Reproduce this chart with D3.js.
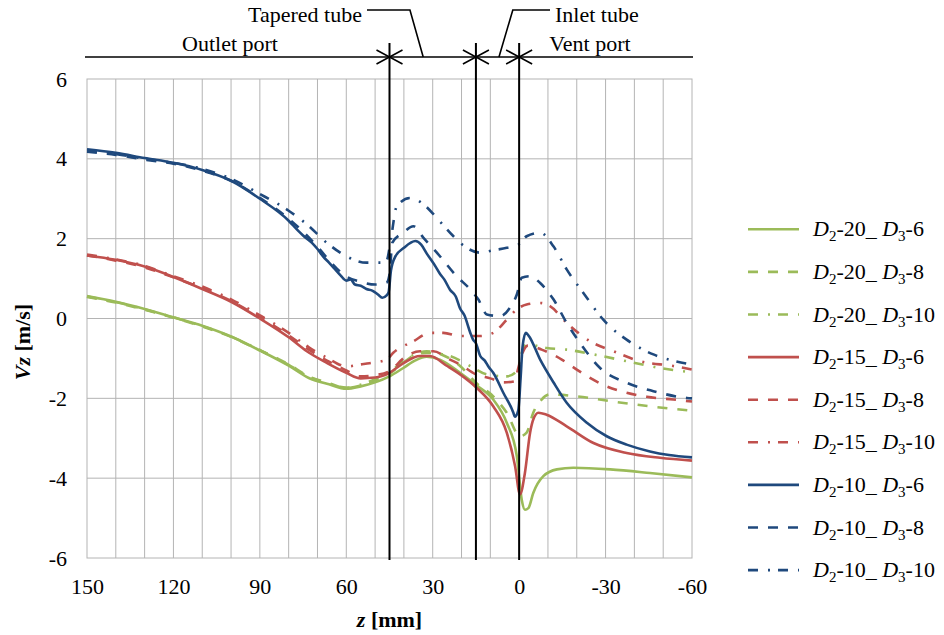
<!DOCTYPE html>
<html lang="en">
<head>
  <meta charset="UTF-8">
  <title>Vz along z</title>
  <style>
    body { margin: 0; background: #fff; }
    text { font-family: "Liberation Serif", "Times New Roman", serif; fill: #000; }
  </style>
</head>
<body>
  <svg></svg>
  <script src="https://cdn.jsdelivr.net/npm/d3@7"></script>
  <script>
    // [z (mm), Vz (m/s)]
    const green6 = [[150,0.56],[140,0.42],[130,0.24],[120,0.03],[110,-0.18],[100,-0.45],[90,-0.80],[80,-1.18],[73,-1.49],[66,-1.65],[60,-1.76],[55,-1.70],[50,-1.60],[45,-1.45],[40.2,-1.24],[36,-1.05],[32.1,-0.96],[27.5,-1.03],[20.5,-1.36],[14.7,-1.68],[9,-2.03],[4.3,-2.61],[0.8,-3.45],[-0.9,-4.54],[-2,-4.79],[-3.2,-4.75],[-4.9,-4.37],[-8.4,-3.95],[-13.1,-3.78],[-18.8,-3.74],[-31.6,-3.78],[-45.4,-3.87],[-60,-3.98]]
    const green8 = [[150,0.54],[140,0.40],[130,0.22],[120,0.02],[110,-0.20],[100,-0.46],[90,-0.80],[80,-1.15],[73,-1.45],[66,-1.62],[60,-1.74],[55,-1.68],[50,-1.55],[45,-1.38],[40,-1.10],[36,-0.90],[32.1,-0.82],[27,-0.90],[20.5,-1.19],[14.7,-1.63],[9,-1.95],[4.3,-2.36],[-0.3,-2.95],[-2.6,-2.86],[-4.9,-2.36],[-7.8,-2.03],[-10.7,-1.90],[-20,-1.95],[-31.6,-2.07],[-45.4,-2.20],[-60,-2.31]]
    const green10 = [[150,0.55],[140,0.41],[130,0.23],[120,0.03],[110,-0.19],[100,-0.45],[90,-0.79],[80,-1.16],[73,-1.46],[66,-1.63],[60,-1.73],[55,-1.66],[50,-1.52],[45,-1.35],[40,-1.05],[36,-0.90],[32,-0.86],[24,-0.94],[17,-1.19],[11.2,-1.40],[4.3,-1.45],[0.8,-1.32],[-0.9,-0.86],[-2.6,-0.65],[-9.6,-0.74],[-16.5,-0.78],[-25.8,-0.90],[-37.3,-1.07],[-48.9,-1.24],[-60,-1.35]]

    const red6 = [[150,1.58],[140,1.47],[130,1.30],[120,1.04],[110,0.74],[100,0.42],[90,0.0],[80,-0.47],[73.7,-0.82],[66.8,-1.11],[60,-1.36],[55,-1.50],[50,-1.48],[45,-1.36],[40,-1.11],[34.4,-0.94],[31,-0.94],[25,-1.19],[20.5,-1.40],[14.7,-1.74],[9,-2.20],[4.3,-2.86],[1.4,-3.70],[-0.3,-4.41],[-2,-3.87],[-3.8,-2.86],[-4.9,-2.53],[-6.7,-2.36],[-9.5,-2.41],[-16.5,-2.70],[-25.8,-3.12],[-37.3,-3.37],[-48.9,-3.49],[-60,-3.56]]
    const red8 = [[150,1.58],[140,1.45],[130,1.28],[120,1.03],[110,0.76],[100,0.44],[90,0.03],[80,-0.42],[73,-0.78],[66,-1.08],[60,-1.30],[55,-1.45],[50,-1.42],[45,-1.32],[40,-0.99],[34.4,-0.82],[29.8,-0.82],[24,-1.03],[20.5,-1.15],[15,-1.40],[10,-1.50],[5.5,-1.60],[1.4,-1.57],[0.5,-1.30],[-1,-0.90],[-3,-0.68],[-7.8,-0.78],[-14.8,-1.03],[-20,-1.28],[-24.6,-1.49],[-30.4,-1.70],[-37.3,-1.86],[-44.3,-1.96],[-53.5,-2.03],[-60,-2.08]]
    const red10 = [[150,1.60],[140,1.48],[130,1.32],[120,1.06],[110,0.80],[100,0.48],[90,0.08],[80,-0.36],[73,-0.72],[66.8,-0.98],[59.8,-1.20],[55,-1.15],[52,-1.12],[46,-1.03],[43.7,-0.86],[36.7,-0.57],[30.9,-0.36],[26.3,-0.36],[20.5,-0.44],[13.6,-0.44],[9,-0.36],[4.3,-0.03],[0.8,0.23],[-2.6,0.35],[-7.3,0.39],[-10.7,0.31],[-16.5,-0.11],[-24.6,-0.57],[-32.7,-0.82],[-42,-1.07],[-53.5,-1.19],[-60,-1.28]]

    const blue6 = [[150,4.24],[140,4.15],[130,4.02],[120,3.90],[110,3.72],[100,3.45],[90,3.00],[80,2.45],[77,2.22],[75,2.08],[72,1.90],[70,1.74],[68,1.55],[66,1.40],[64,1.24],[62,1.08],[60,0.95],[58.5,0.98],[57,0.85],[55,0.82],[53,0.74],[51,0.70],[49,0.60],[47.5,0.52],[46,0.58],[45.3,0.66],[44.5,1.20],[43,1.55],[40,1.77],[36,1.94],[34,1.85],[32,1.62],[29,1.30],[27.5,1.12],[26,0.98],[24,0.72],[22,0.55],[20.5,0.25],[19,0.08],[17,-0.35],[16,-0.53],[15,-0.62],[13.5,-0.94],[12,-1.05],[10.5,-1.22],[9,-1.36],[5.5,-1.86],[2,-2.36],[1.5,-2.46],[0.3,-2.30],[-0.5,-1.50],[-1.2,-0.70],[-2.3,-0.36],[-3.2,-0.42],[-7.3,-1.03],[-12,-1.61],[-16.5,-2.11],[-23.5,-2.61],[-30.4,-2.95],[-37.3,-3.16],[-45.4,-3.33],[-52,-3.42],[-60,-3.48]]
    const blue8 = [[150,4.18],[140,4.10],[130,3.98],[120,3.88],[110,3.70],[100,3.45],[90,3.02],[80,2.50],[70,1.80],[65,1.38],[60,1.05],[55,0.92],[50,0.85],[46,0.90],[45,1.10],[44,1.90],[40.2,2.15],[36.7,2.31],[33.2,2.02],[27.5,1.56],[21.7,1.06],[17,0.73],[14.2,0.48],[11.2,0.10],[6.6,0.06],[3.2,0.27],[0.8,0.60],[-0.9,1.02],[-3.8,1.06],[-7.3,0.89],[-11.9,0.48],[-16.5,-0.11],[-21.1,-0.61],[-28.1,-1.24],[-37.3,-1.61],[-46.6,-1.82],[-58.2,-1.99],[-60,-2.00]]
    const blue10 = [[150,4.20],[140,4.12],[130,4.00],[120,3.90],[110,3.75],[100,3.50],[90,3.12],[80,2.70],[73.7,2.36],[66.8,1.90],[60,1.56],[53,1.40],[48,1.40],[46,1.45],[44.5,2.00],[42.5,2.81],[37.9,3.02],[33.2,2.86],[28.6,2.52],[22.8,2.06],[18.2,1.77],[13.6,1.65],[9,1.71],[4.3,1.77],[0.3,1.85],[-2.6,2.06],[-7.3,2.15],[-11.9,1.81],[-16.5,1.23],[-22.3,0.64],[-29.2,-0.03],[-37.3,-0.53],[-46.6,-0.90],[-53,-1.05],[-60,-1.15]]

    const seriesD2 = ["20", "20", "20", "15", "15", "15", "10", "10", "10"]
    const seriesD3 = ["6", "8", "10", "6", "8", "10", "6", "8", "10"]
    const seriesData = [green6, green8, green10, red6, red8, red10, blue6, blue8, blue10]

    const xTicks = [150, 120, 90, 60, 30, 0, -30, -60]
    const yTicks = [-6, -4, -2, 0, 2, 4, 6]
    const sectionLines = [45, 15, 0]

    var width = 944
    var height = 635
    var plotL = 87, plotR = 692, plotT = 79, plotB = 558

    var svg = d3.select("svg")
      .attr("width", width)
      .attr("height", height)

    var x = d3.scaleLinear().domain([150, -60]).range([plotL, plotR])
    var y = d3.scaleLinear().domain([-6, 6]).range([plotB, plotT])

    const colors = { "20": "#9bbb59", "15": "#c0504d", "10": "#1f497d" }
    const dashes = { "6": null, "8": "10,10", "10": "10,10,2,8" }

    // grid
    svg.append("g")
      .selectAll("line")
      .data(d3.range(140, -60, -10))
      .join("line")
      .attr("x1", d => x(d)).attr("x2", d => x(d))
      .attr("y1", plotT).attr("y2", plotB)
      .attr("stroke", "#b4b4b4").attr("stroke-width", 1)
    svg.append("g")
      .selectAll("line")
      .data([-4, -2, 0, 2, 4])
      .join("line")
      .attr("x1", plotL).attr("x2", plotR)
      .attr("y1", d => y(d)).attr("y2", d => y(d))
      .attr("stroke", "#b4b4b4").attr("stroke-width", 1)
    svg.append("rect")
      .attr("x", plotL).attr("y", plotT)
      .attr("width", plotR - plotL).attr("height", plotB - plotT)
      .attr("fill", "none").attr("stroke", "#b4b4b4")

    // tick labels
    var xAxis = svg.append("g")
      .attr("transform", `translate(0, ${plotB})`)
      .call(d3.axisBottom(x).tickValues(xTicks).tickSize(0).tickPadding(20).tickFormat(d => String(d)))
    var yAxis = svg.append("g")
      .attr("transform", `translate(${plotL}, 0)`)
      .call(d3.axisLeft(y).tickValues(yTicks).tickSize(0).tickPadding(20).tickFormat(d => String(d)))
    for (const ax of [xAxis, yAxis]) {
      ax.select(".domain").remove()
      ax.selectAll("text")
        .attr("font-family", "Liberation Serif")
        .attr("font-size", 22)
        .attr("fill", "#000")
    }

    // series
    var line = d3.line()
      .x(d => x(d[0]))
      .y(d => y(d[1]))
      .curve(d3.curveMonotoneX)

    svg.append("g")
      .selectAll("path")
      .data(seriesData)
      .join("path")
      .attr("d", line)
      .attr("fill", "none")
      .attr("stroke", (d, i) => colors[seriesD2[i]])
      .attr("stroke-width", 2.6)
      .attr("stroke-dasharray", (d, i) => dashes[seriesD3[i]])

    // section boundaries
    var annY = 57
    svg.append("line")
      .attr("x1", 85).attr("x2", 693)
      .attr("y1", annY).attr("y2", annY)
      .attr("stroke", "#000").attr("stroke-width", 1.6)
    svg.append("g")
      .selectAll("line")
      .data(sectionLines)
      .join("line")
      .attr("x1", d => x(d)).attr("x2", d => x(d))
      .attr("y1", 43).attr("y2", plotB + 2)
      .attr("stroke", "#000").attr("stroke-width", 2)
    svg.append("g")
      .selectAll("path")
      .data(sectionLines)
      .join("path")
      .attr("d", d => {
        var cx = x(d)
        return `M${cx - 13},${annY - 7}L${cx},${annY}L${cx - 13},${annY + 7}` +
               `M${cx + 13},${annY - 7}L${cx},${annY}L${cx + 13},${annY + 7}`
      })
      .attr("fill", "none").attr("stroke", "#000").attr("stroke-width", 1.6)

    // leaders
    svg.append("path")
      .attr("d", `M${x(33.3)},${annY}L${x(37.9)},10L367,10`)
      .attr("fill", "none").attr("stroke", "#000").attr("stroke-width", 1.6)
    svg.append("path")
      .attr("d", `M${x(7)},${annY}L${x(2.2)},10L550,10`)
      .attr("fill", "none").attr("stroke", "#000").attr("stroke-width", 1.6)

    const annFont = 22
    svg.append("text").attr("x", 230).attr("y", 51).attr("text-anchor", "middle")
      .attr("font-size", annFont).text("Outlet port")
    svg.append("text").attr("x", 590).attr("y", 51).attr("text-anchor", "middle")
      .attr("font-size", annFont).text("Vent port")
    svg.append("text").attr("x", 362).attr("y", 22).attr("text-anchor", "end")
      .attr("font-size", annFont).text("Tapered tube")
    svg.append("text").attr("x", 555).attr("y", 22)
      .attr("font-size", annFont).text("Inlet tube")

    // axis titles
    var xt = svg.append("text").attr("x", (plotL + plotR) / 2).attr("y", 627)
      .attr("text-anchor", "middle").attr("font-size", 22).attr("font-weight", "bold")
    xt.append("tspan").attr("font-style", "italic").text("z")
    xt.append("tspan").text(" [mm]")

    var yt = svg.append("text")
      .attr("transform", "translate(30, 342) rotate(-90)")
      .attr("text-anchor", "middle").attr("font-size", 22).attr("font-weight", "bold")
    yt.append("tspan").attr("font-style", "italic").text("Vz")
    yt.append("tspan").text(" [m/s]")

    // legend
    var legend = svg.append("g")
      .selectAll("g")
      .data(seriesData)
      .join("g")
      .attr("transform", (d, i) => `translate(748, ${229.3 + i * 42.6})`)
    legend.append("line")
      .attr("x1", 0).attr("x2", 51)
      .attr("stroke", (d, i) => colors[seriesD2[i]])
      .attr("stroke-width", 2.6)
      .attr("stroke-dasharray", (d, i) => dashes[seriesD3[i]])
    legend.append("text")
      .attr("x", 65).attr("y", 7)
      .attr("font-size", 22)
      .each(function (d, i) {
        var t = d3.select(this)
        t.append("tspan").attr("font-style", "italic").text("D")
        t.append("tspan").attr("font-size", 15).attr("dy", 5).text("2")
        t.append("tspan").attr("dy", -5).text("-" + seriesD2[i] + "_ ")
        t.append("tspan").attr("font-style", "italic").text("D")
        t.append("tspan").attr("font-size", 15).attr("dy", 5).text("3")
        t.append("tspan").attr("dy", -5).text("-" + seriesD3[i])
      })
  </script>
</body>
</html>
